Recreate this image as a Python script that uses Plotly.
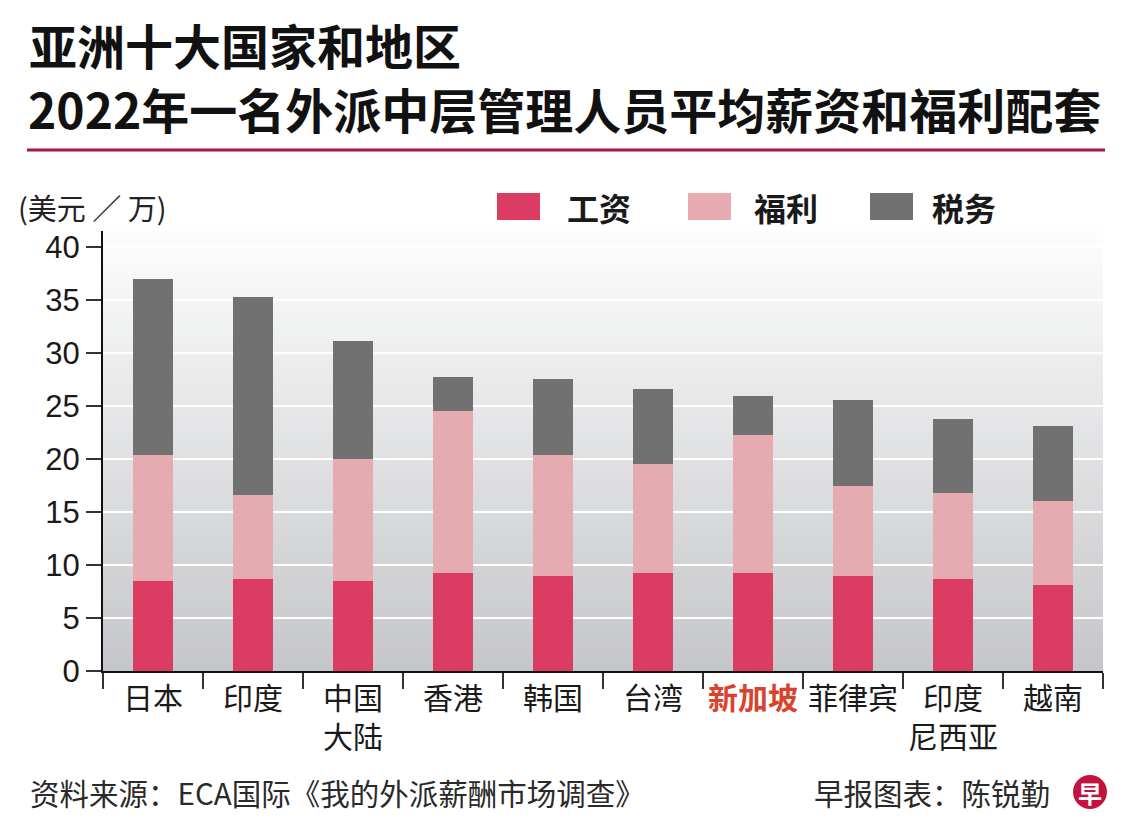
import plotly.graph_objects as go

categories = ["日本", "印度", "中国大陆", "香港", "韩国", "台湾", "新加坡", "菲律宾", "印度尼西亚", "越南"]
tick_labels = ["日本", "印度", "中国<br>大陆", "香港", "韩国", "台湾",
               "<span style='color:#d9432b'><b>新加坡</b></span>", "菲律宾", "印度<br>尼西亚", "越南"]
salary = [8.47, 8.72, 8.47, 9.2, 8.94, 9.2, 9.2, 8.94, 8.69, 8.13]
benefits = [11.88, 7.88, 11.56, 15.3, 11.41, 10.3, 13.04, 8.51, 8.11, 7.87]
tax = [16.65, 18.67, 11.12, 3.22, 7.18, 7.1, 3.66, 8.12, 7.0, 7.1]
series_names = ["工资", "福利", "税务"]
series_colors = ["#dc3b62", "#e6abb1", "#717171"]

# page offset (body margin) compensation
OFF = 8
W, H = 1140, 840
L, T = 103 - OFF, 231 - OFF
PW, PH = 1000, 440
R, B = W - L - PW, H - T - PH
CJK = "Noto Sans CJK SC, Noto Sans, sans-serif"
NUM = "Liberation Sans, Arial, sans-serif"


def px(x):
    return (x - OFF - L) / PW


def py(y):
    return (T + PH - (y - OFF)) / PH


fig = go.Figure()
for name, vals, col in zip(series_names, [salary, benefits, tax], series_colors):
    fig.add_trace(go.Bar(x=categories, y=vals, name=name, marker=dict(color=col, line=dict(width=0)),
                         showlegend=False))

shapes = []
# gradient background bands
n = 60
c0 = (253, 253, 253)
c1 = (197, 198, 201)
for i in range(n):
    t = (i + 0.5) / n
    c = tuple(round(c0[k] + (c1[k] - c0[k]) * t) for k in range(3))
    shapes.append(dict(type="rect", xref="paper", yref="paper", x0=0, x1=1,
                       y0=1 - (i + 1) / n, y1=1 - i / n + 0.001, layer="below",
                       fillcolor="rgb(%d,%d,%d)" % c, line=dict(width=0)))
# title rule
shapes.append(dict(type="line", xref="paper", yref="paper", x0=px(27), x1=px(1105), y0=py(150), y1=py(150),
                   line=dict(color="#a3193f", width=3)))
# legend swatches
for xa, col in zip([497, 688, 870], series_colors):
    shapes.append(dict(type="rect", xref="paper", yref="paper", x0=px(xa), x1=px(xa + 43),
                       y0=py(220), y1=py(193), fillcolor=col, line=dict(width=0)))
# logo circle
shapes.append(dict(type="circle", xref="paper", yref="paper", x0=px(1073), x1=px(1107),
                   y0=py(809), y1=py(775), fillcolor="#c4123e", line=dict(width=0)))

annotations = [
    dict(text="<b>亚洲十大国家和地区</b>", x=px(27), y=py(44), xanchor="left", yanchor="middle",
         font=dict(family=CJK, size=48, color="#111111")),
    dict(text="<b>2022年一名外派中层管理人员平均薪资和福利配套</b>", x=px(26), y=py(108),
         xanchor="left", yanchor="middle", font=dict(family=CJK, size=48, color="#111111")),
    dict(text="(美元 ／ 万)", x=px(16), y=py(207), xanchor="left", yanchor="middle",
         font=dict(family=CJK, size=29, color="#222222")),
    dict(text="资料来源：ECA国际《我的外派薪酬市场调查》", x=px(28), y=py(792), xanchor="left",
         yanchor="middle", font=dict(family=CJK, size=29.5, color="#2a2a2a")),
    dict(text="早报图表：陈锐勤", x=px(1052), y=py(792), xanchor="right", yanchor="middle",
         font=dict(family=CJK, size=29.5, color="#2a2a2a")),
    dict(text="<b>早</b>", x=px(1090), y=py(792), xanchor="center", yanchor="middle",
         font=dict(family=CJK, size=24, color="white")),
]
for name, xa in zip(series_names, [565, 752, 930]):
    annotations.append(dict(text="<b>%s</b>" % name, x=px(xa), y=py(207), xanchor="left", yanchor="middle",
                            font=dict(family=CJK, size=32, color="#1a1a1a")))
for a in annotations:
    a.update(xref="paper", yref="paper", showarrow=False)

fig.update_layout(
    width=W, height=H, margin=dict(l=L, r=R, t=T, b=B, pad=0),
    paper_bgcolor="white", plot_bgcolor="rgba(0,0,0,0)",
    barmode="stack", bargap=0.6,
    shapes=shapes, annotations=annotations, showlegend=False,
    xaxis=dict(tickvals=categories, ticktext=tick_labels, tickson="boundaries", ticks="outside",
               ticklen=16, tickwidth=1.5, tickcolor="#333333", showline=True, linecolor="#111111",
               linewidth=2, showgrid=False, tickfont=dict(family=CJK, size=30, color="#1a1a1a"),
               range=[-0.5, 9.5]),
    yaxis=dict(range=[0, 41.5], tickvals=[0, 5, 10, 15, 20, 25, 30, 35, 40], ticks="outside",
               ticklen=15, tickwidth=1.5, tickcolor="#333333", showline=True, linecolor="#111111",
               linewidth=2, showgrid=True, gridcolor="white", gridwidth=2, zeroline=False,
               tickfont=dict(family=NUM, size=31, color="#1a1a1a")),
)

fig.write_html("out.html")
